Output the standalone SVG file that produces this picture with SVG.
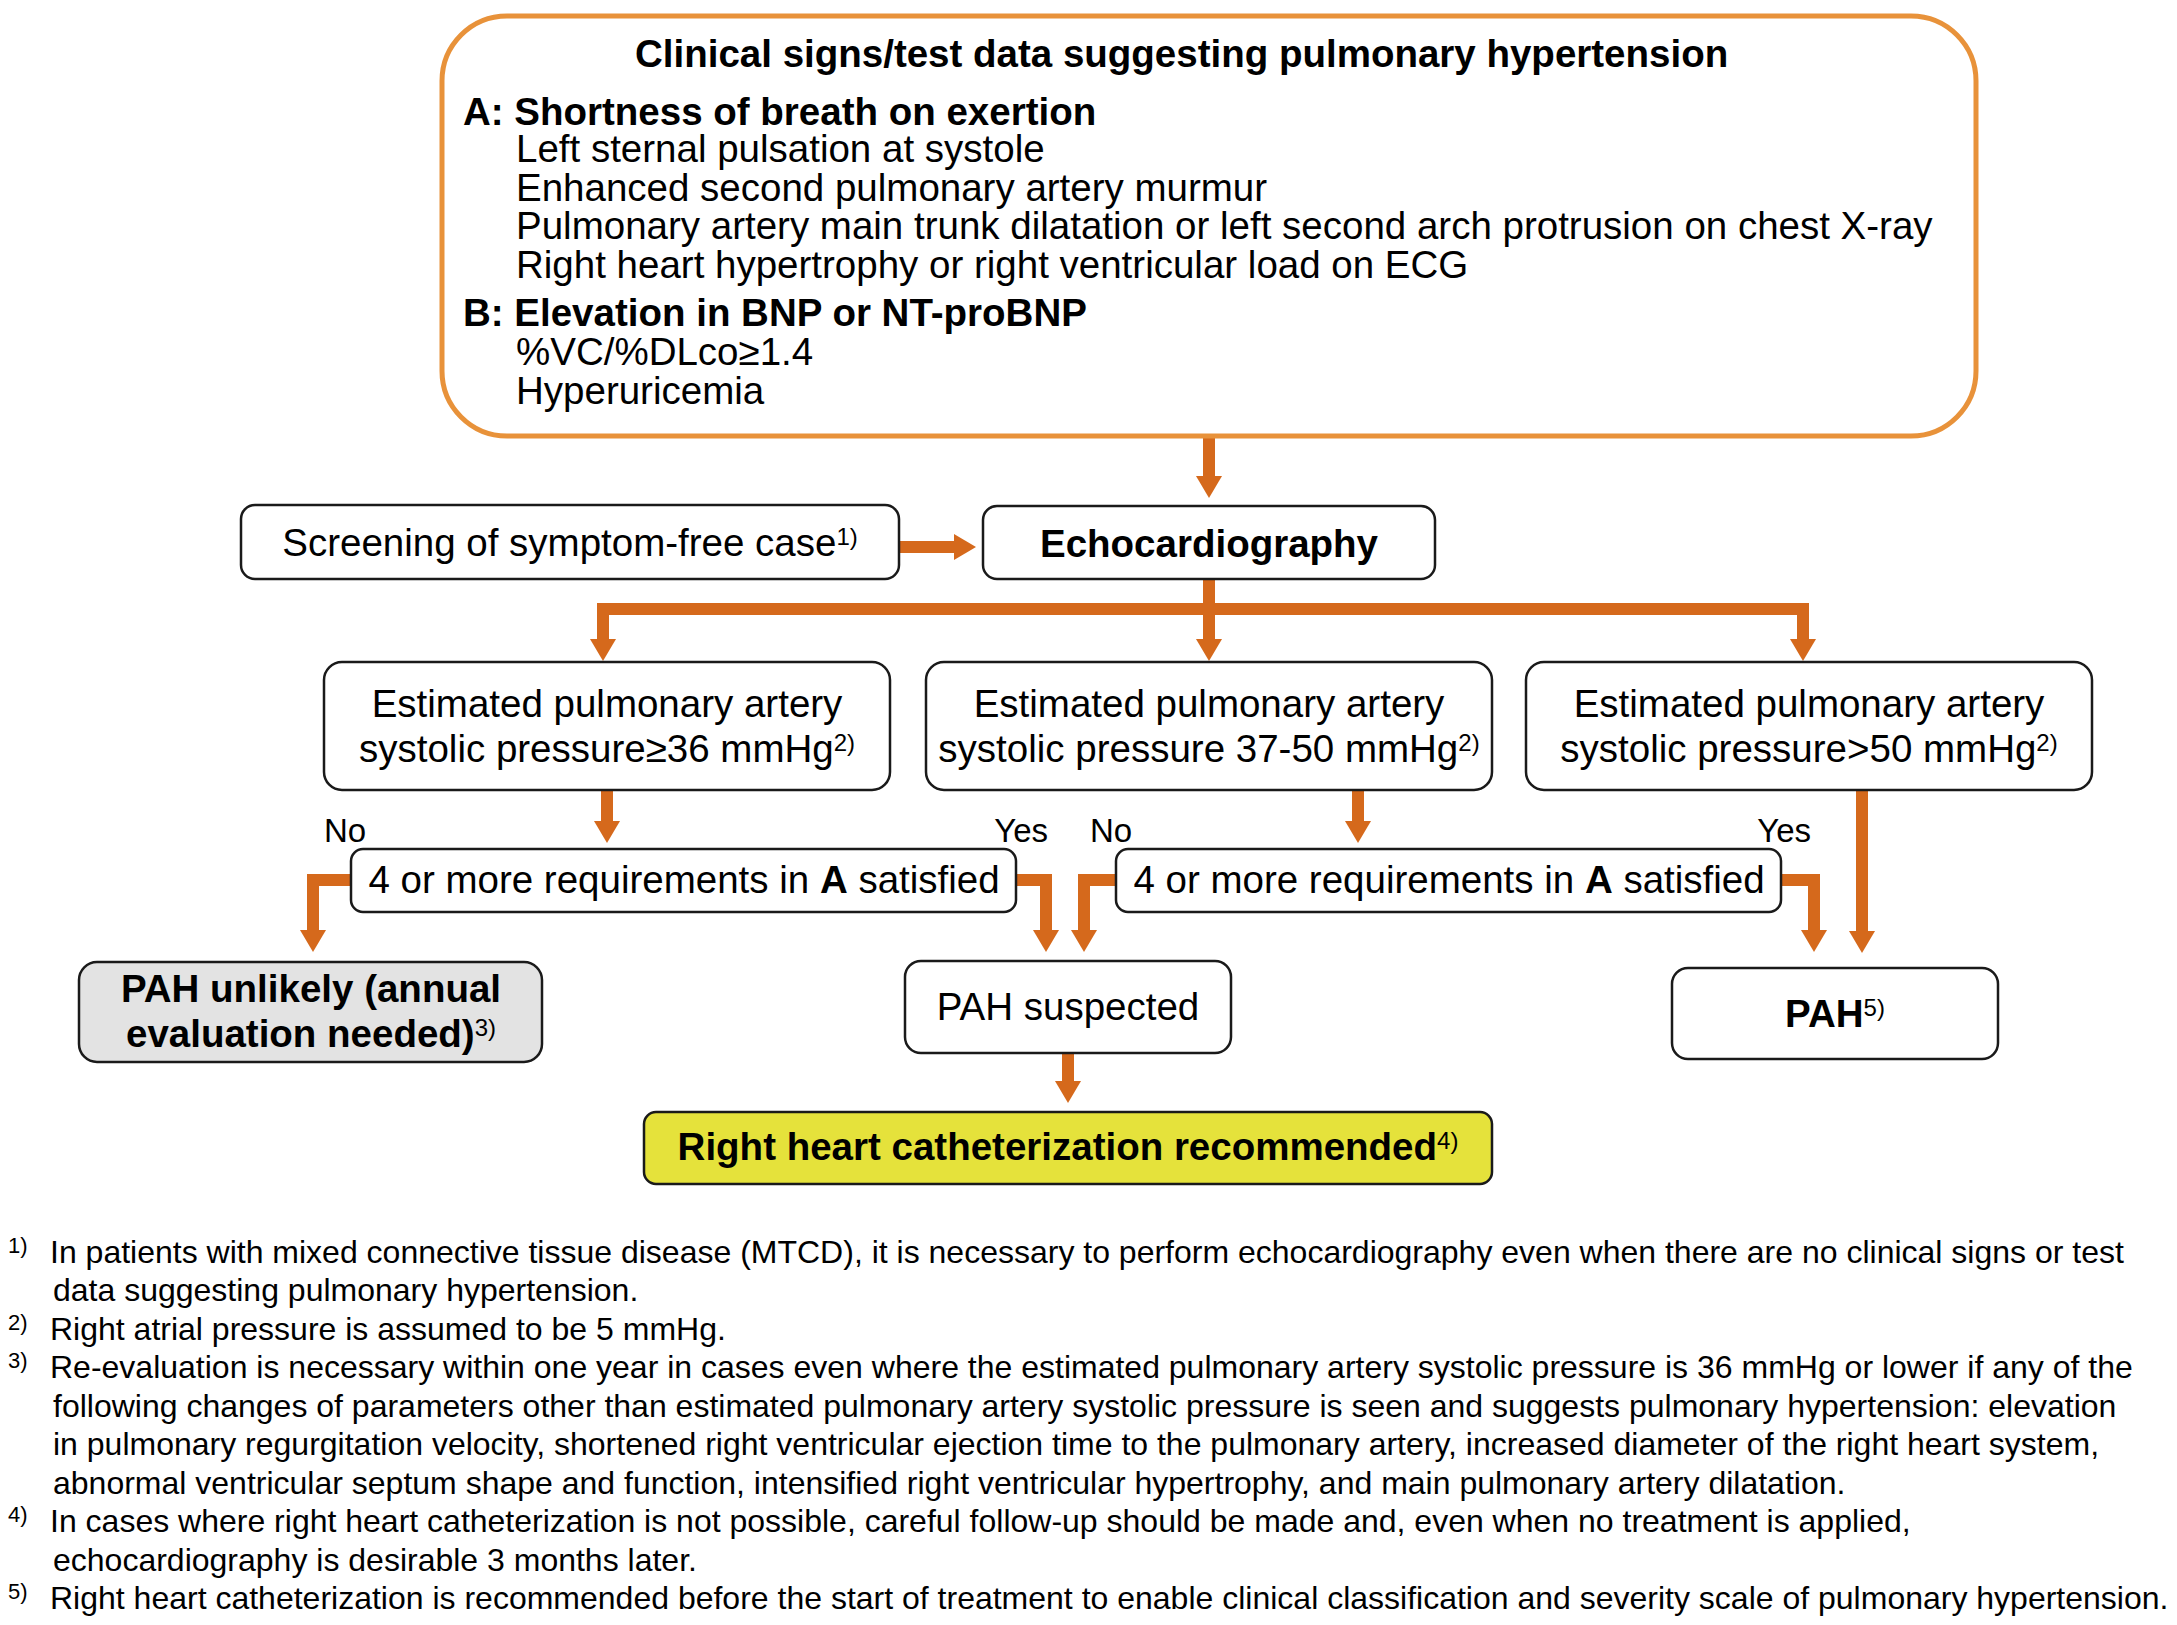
<svg xmlns="http://www.w3.org/2000/svg" width="2177" height="1625" viewBox="0 0 2177 1625">
<defs>
<marker id="ah" markerUnits="userSpaceOnUse" markerWidth="24" markerHeight="28" refX="0" refY="13" orient="auto" viewBox="0 0 24 26">
<path d="M0,0 L22,13 L0,26 z" fill="#D5691C"/>
</marker>
<style>
text{font-family:"Liberation Sans",Arial,sans-serif;fill:#000}
.m{font-size:38.5px}
.b{font-weight:bold}
.c{text-anchor:middle}
.e{text-anchor:end}
.yn{font-size:33px}
.fn{font-size:32px}
.fs{font-size:22px}
.sup{font-size:24px;font-weight:normal}
.box{fill:#fff;stroke:#1a1a1a;stroke-width:2.5}
.con{fill:none;stroke:#D5691C;stroke-width:12;stroke-linejoin:miter}
</style>
</defs>
<rect width="2177" height="1625" fill="#fff"/>

<g id="connectors">
<path class="con" d="M1209,437 V476" marker-end="url(#ah)"/>
<path class="con" d="M899,547 H954" marker-end="url(#ah)"/>
<path class="con" d="M1209,579 V639" marker-end="url(#ah)"/>
<path class="con" d="M597,609 H1809"/>
<path class="con" d="M603,603 V639" marker-end="url(#ah)"/>
<path class="con" d="M1803,603 V639" marker-end="url(#ah)"/>
<path class="con" d="M607,790 V821" marker-end="url(#ah)"/>
<path class="con" d="M1358,790 V821" marker-end="url(#ah)"/>
<path class="con" d="M1862,790 V931" marker-end="url(#ah)"/>
<path class="con" d="M351,880 H313 V930" marker-end="url(#ah)"/>
<path class="con" d="M1016,880 H1046 V930" marker-end="url(#ah)"/>
<path class="con" d="M1116,880 H1084 V930" marker-end="url(#ah)"/>
<path class="con" d="M1781,880 H1814 V930" marker-end="url(#ah)"/>
<path class="con" d="M1068,1053 V1081" marker-end="url(#ah)"/>
</g>

<g id="criteria">
<rect x="442" y="16" width="1534" height="420" rx="65" ry="65" fill="#fff" stroke="#E8923A" stroke-width="5"/>
<text class="m b" x="635" y="67">Clinical signs/test data suggesting pulmonary hypertension</text>
<text class="m b" x="463" y="125">A: Shortness of breath on exertion</text>
<text class="m" x="516" y="162">Left sternal pulsation at systole</text>
<text class="m" x="516" y="201">Enhanced second pulmonary artery murmur</text>
<text class="m" x="516" y="239">Pulmonary artery main trunk dilatation or left second arch protrusion on chest X-ray</text>
<text class="m" x="516" y="278">Right heart hypertrophy or right ventricular load on ECG</text>
<text class="m b" x="463" y="326">B: Elevation in BNP or NT-proBNP</text>
<text class="m" x="516" y="365">%VC/%DLco≥1.4</text>
<text class="m" x="516" y="404">Hyperuricemia</text>
</g>

<g id="screening">
<rect class="box" x="241" y="505" width="658" height="74" rx="14"/>
<text class="m c" x="570" y="556">Screening of symptom-free case<tspan class="sup" dy="-11">1)</tspan></text>
</g>

<g id="echo">
<rect class="box" x="983" y="506" width="452" height="73" rx="14"/>
<text class="m b c" x="1209" y="557">Echocardiography</text>
</g>

<g id="est1">
<rect class="box" x="324" y="662" width="566" height="128" rx="18"/>
<text class="m c" x="607" y="717">Estimated pulmonary artery</text>
<text class="m c" x="607" y="762">systolic pressure≥36 mmHg<tspan class="sup" dy="-11">2)</tspan></text>
</g>

<g id="est2">
<rect class="box" x="926" y="662" width="566" height="128" rx="18"/>
<text class="m c" x="1209" y="717">Estimated pulmonary artery</text>
<text class="m c" x="1209" y="762">systolic pressure 37-50 mmHg<tspan class="sup" dy="-11">2)</tspan></text>
</g>

<g id="est3">
<rect class="box" x="1526" y="662" width="566" height="128" rx="18"/>
<text class="m c" x="1809" y="717">Estimated pulmonary artery</text>
<text class="m c" x="1809" y="762">systolic pressure&gt;50 mmHg<tspan class="sup" dy="-11">2)</tspan></text>
</g>

<g id="req1">
<rect class="box" x="351" y="849" width="665" height="63" rx="12"/>
<text class="m c" x="684" y="893">4 or more requirements in <tspan class="b">A</tspan> satisfied</text>
</g>

<g id="req2">
<rect class="box" x="1116" y="849" width="665" height="63" rx="12"/>
<text class="m c" x="1449" y="893">4 or more requirements in <tspan class="b">A</tspan> satisfied</text>
</g>

<g id="labels">
<text class="yn" x="324" y="842">No</text>
<text class="yn e" x="1048" y="842">Yes</text>
<text class="yn" x="1090" y="842">No</text>
<text class="yn e" x="1811" y="842">Yes</text>
</g>

<g id="unlikely">
<rect x="79" y="962" width="463" height="100" rx="18" fill="#E3E3E3" stroke="#1a1a1a" stroke-width="2.5"/>
<text class="m b c" x="311" y="1002">PAH unlikely (annual</text>
<text class="m b c" x="311" y="1047">evaluation needed)<tspan class="sup" dy="-11">3)</tspan></text>
</g>

<g id="suspected">
<rect class="box" x="905" y="961" width="326" height="92" rx="16"/>
<text class="m c" x="1068" y="1020">PAH suspected</text>
</g>

<g id="pah">
<rect class="box" x="1672" y="968" width="326" height="91" rx="16"/>
<text class="m b c" x="1835" y="1027">PAH<tspan class="sup" dy="-11">5)</tspan></text>
</g>

<g id="rhc">
<rect x="644" y="1112" width="848" height="72" rx="12" fill="#E5E23B" stroke="#1a1a1a" stroke-width="2.5"/>
<text class="m b c" x="1068" y="1160">Right heart catheterization recommended<tspan class="sup" dy="-11">4)</tspan></text>
</g>

<g id="footnotes">
<text class="fs" x="8" y="1253">1)</text>
<text class="fn" x="50" y="1263">In patients with mixed connective tissue disease (MTCD), it is necessary to perform echocardiography even when there are no clinical signs or test</text>
<text class="fn" x="53" y="1301">data suggesting pulmonary hypertension.</text>
<text class="fs" x="8" y="1330">2)</text>
<text class="fn" x="50" y="1340">Right atrial pressure is assumed to be 5 mmHg.</text>
<text class="fs" x="8" y="1368">3)</text>
<text class="fn" x="50" y="1378">Re-evaluation is necessary within one year in cases even where the estimated pulmonary artery systolic pressure is 36 mmHg or lower if any of the</text>
<text class="fn" x="53" y="1417">following changes of parameters other than estimated pulmonary artery systolic pressure is seen and suggests pulmonary hypertension: elevation</text>
<text class="fn" x="53" y="1455">in pulmonary regurgitation velocity, shortened right ventricular ejection time to the pulmonary artery, increased diameter of the right heart system,</text>
<text class="fn" x="53" y="1494">abnormal ventricular septum shape and function, intensified right ventricular hypertrophy, and main pulmonary artery dilatation.</text>
<text class="fs" x="8" y="1522">4)</text>
<text class="fn" x="50" y="1532">In cases where right heart catheterization is not possible, careful follow-up should be made and, even when no treatment is applied,</text>
<text class="fn" x="53" y="1571">echocardiography is desirable 3 months later.</text>
<text class="fs" x="8" y="1599">5)</text>
<text class="fn" x="50" y="1609">Right heart catheterization is recommended before the start of treatment to enable clinical classification and severity scale of pulmonary hypertension.</text>
</g>
</svg>
